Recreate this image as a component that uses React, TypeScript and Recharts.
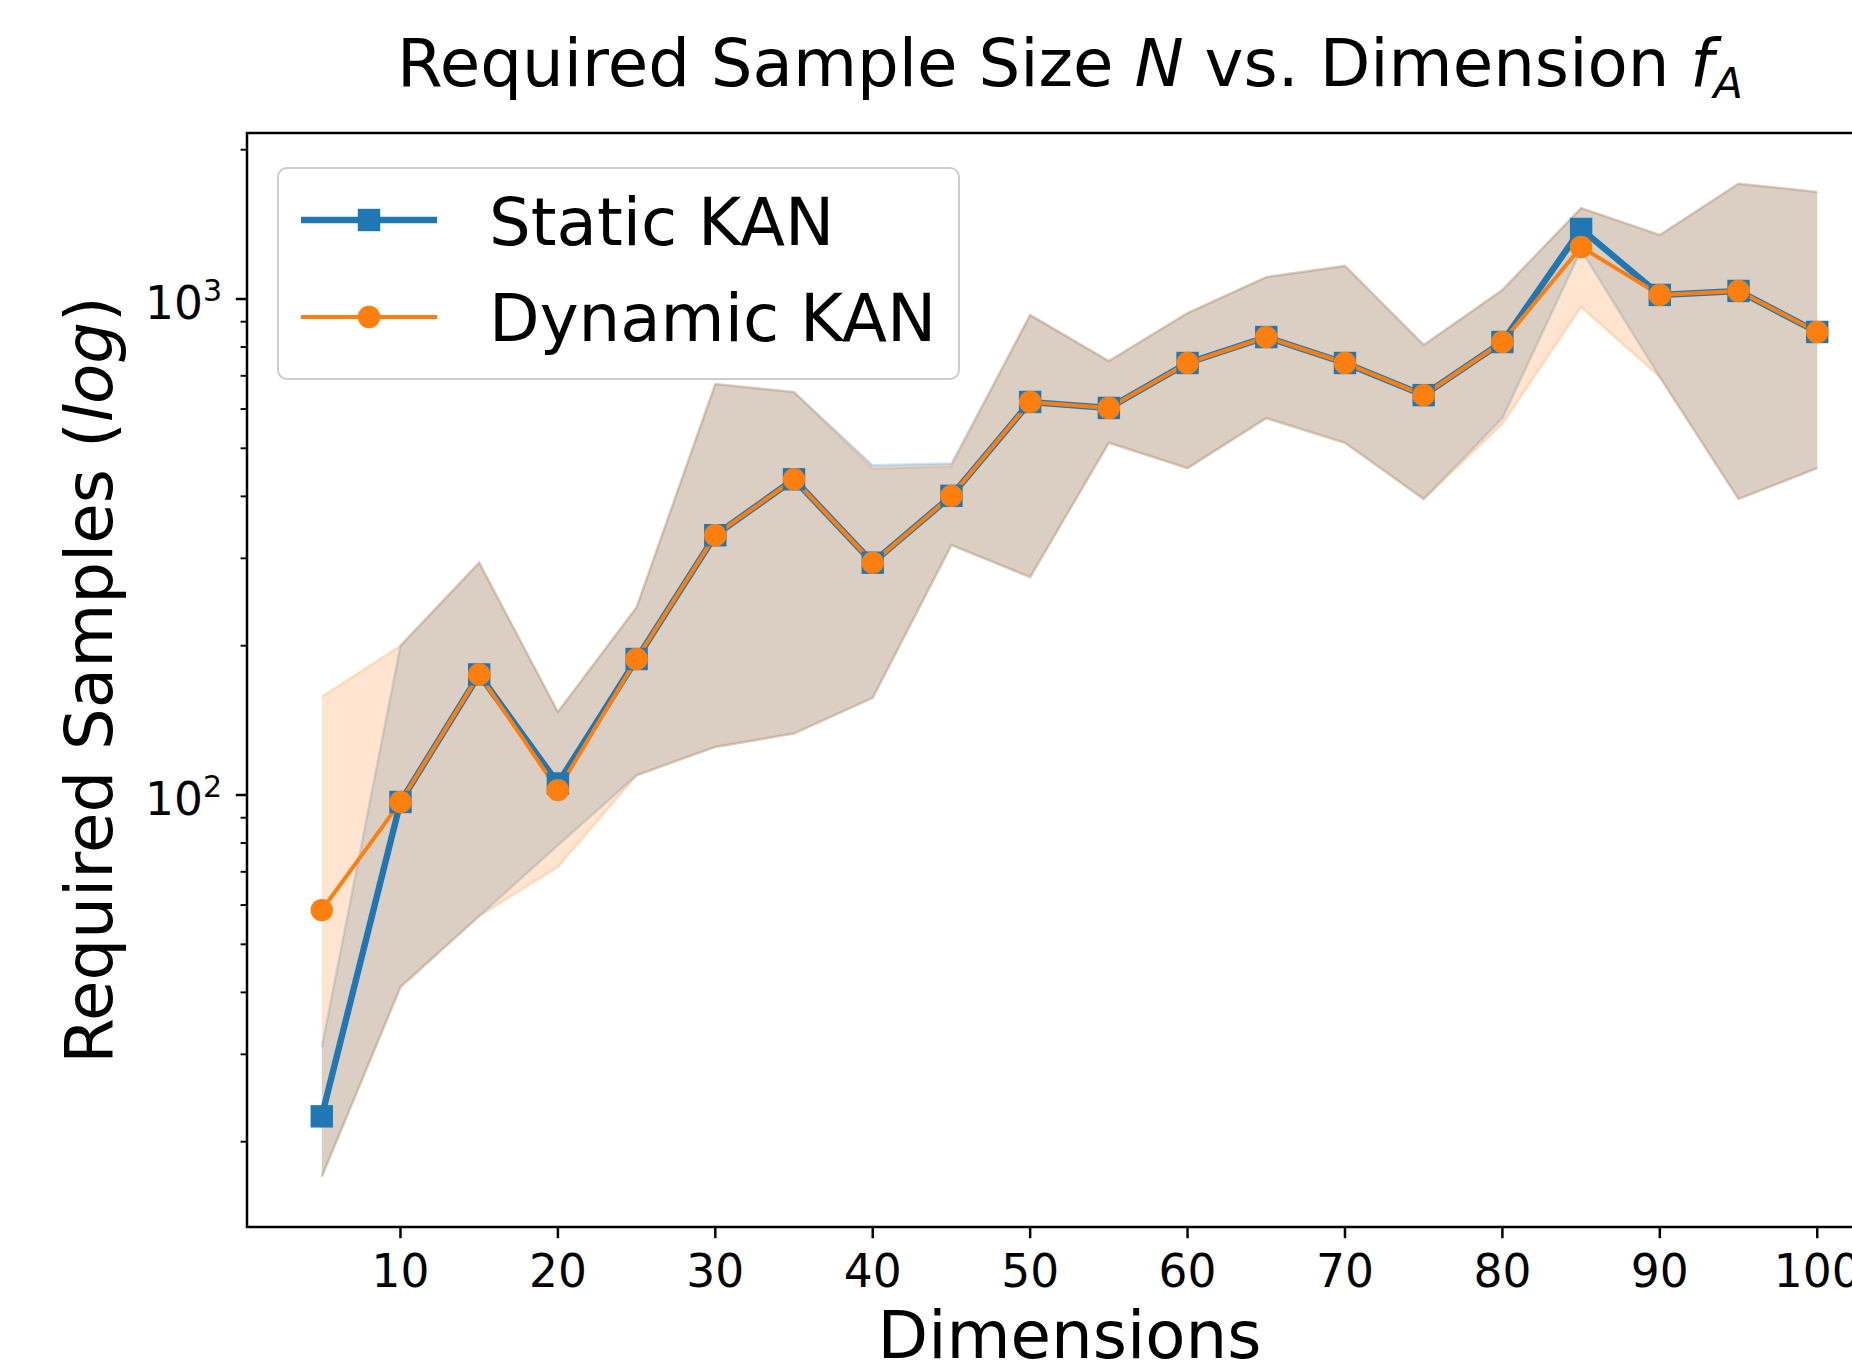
import React from 'react';
import { ComposedChart, Area, Line, XAxis, YAxis, Legend, ReferenceArea, Label } from 'recharts';

// dimensions on the x axis
const dims = [5, 10, 15, 20, 25, 30, 35, 40, 45, 50, 55, 60, 65, 70, 75, 80, 85, 90, 95, 100];

// mean required samples per dimension
const staticMean = [22.5, 96.8, 175, 105.5, 188, 334, 433, 294, 401, 620, 603, 743, 838, 743, 640, 819, 1384, 1019, 1038, 858];
const dynamicMean = [58.6, 96.8, 175, 102.3, 188, 334, 433, 294, 401, 620, 603, 743, 838, 743, 640, 819, 1273, 1019, 1038, 858];

// shaded spread around each mean
const staticLow = [17.0, 41.0, 57.0, 79.2, 109.6, 125, 133, 157, 319, 275, 513, 456, 575, 513, 395, 575, 1255, 696, 395, 456];
const staticHigh = [31.0, 200, 294, 147, 239, 674, 649, 462, 466, 928, 750, 937, 1107, 1166, 808, 1043, 1525, 1346, 1707, 1644];
const dynamicLow = [17.0, 41.0, 57.0, 71.6, 109.6, 125, 133, 157, 319, 275, 513, 456, 575, 513, 395, 560, 963, 696, 395, 456];
const dynamicHigh = [157.8, 200, 294, 147, 239, 674, 649, 455, 460, 928, 750, 937, 1107, 1166, 808, 1043, 1525, 1346, 1707, 1644];

const xTicks = [10, 20, 30, 40, 50, 60, 70, 80, 90, 100];
const yTicks = [20, 30, 40, 50, 60, 70, 80, 90, 100, 200, 300, 400, 500, 600, 700, 800, 900, 1000, 2000];
const yMajor = [100, 1000];

const X_DOMAIN: [number, number] = [0.25, 104.75];
const Y_DOMAIN: [number, number] = [13.46, 2161];

const BLUE = '#1f77b4';
const ORANGE = '#ff7f0e';
const FONT = '"DejaVu Sans", Verdana, sans-serif';
const BIG = 65.8;
const TICK = 45.5;

const data = dims.map((d, i) => ({
  dim: d,
  staticMean: staticMean[i],
  dynamicMean: dynamicMean[i],
  staticBand: [staticLow[i], staticHigh[i]],
  dynamicBand: [dynamicLow[i], dynamicHigh[i]],
}));

const XTick = (props: any) => {
  const { x, y, payload } = props;
  return (
    <text x={x} y={y + 49} textAnchor="middle" fontSize={TICK} fontFamily={FONT} fill="#000">
      {payload.value}
    </text>
  );
};

const YTick = (props: any) => {
  const { x, y, payload } = props;
  const v = payload.value;
  const major = yMajor.includes(v);
  const exp = Math.round(Math.log10(v));
  return (
    <g>
      <line
        x1={x - (major ? 11.2 : 6.4)}
        x2={x}
        y1={y}
        y2={y}
        stroke="#000"
        strokeWidth={major ? 2.5 : 1.9}
      />
      {major && (
        <text x={x - 25} y={y + 20} textAnchor="end" fontSize={TICK} fontFamily={FONT} fill="#000">
          10
          <tspan fontSize={30} dy={-18}>
            {exp}
          </tspan>
        </text>
      )}
    </g>
  );
};

const SquareDot = (p: any) => (
  <rect key={`sq-${p.index}`} x={p.cx - 11.2} y={p.cy - 11.2} width={22.4} height={22.4} fill={BLUE} />
);

const CircleDot = (p: any) => <circle key={`ci-${p.index}`} cx={p.cx} cy={p.cy} r={11.2} fill={ORANGE} />;

const LegendBox = () => (
  <svg width={684} height={214} style={{ display: 'block' }}>
    <rect x={1} y={1} width={681} height={211} rx={9} fill="#fff" fillOpacity={0.8} stroke="#cccccc" strokeWidth={2} />
    <line x1={24} x2={160} y1={53} y2={53} stroke={BLUE} strokeWidth={6.4} />
    <rect x={92 - 11.2} y={53 - 11.2} width={22.4} height={22.4} fill={BLUE} />
    <text x={212} y={78} fontSize={BIG} fontFamily={FONT} fill="#000">
      Static KAN
    </text>
    <line x1={24} x2={160} y1={150} y2={150} stroke={ORANGE} strokeWidth={4} />
    <circle cx={92} cy={150} r={11.2} fill={ORANGE} />
    <text x={212} y={174} fontSize={BIG} fontFamily={FONT} fill="#000">
      Dynamic KAN
    </text>
  </svg>
);

const App: React.FC = () => {
  return (
    <div
      style={{
        position: 'fixed',
        left: 0,
        top: 0,
        width: 1852,
        height: 1368,
        overflow: 'hidden',
        background: '#fff',
      }}
    >
      <svg width={1852} height={140} style={{ position: 'absolute', left: 0, top: 0 }}>
        <text x={1070} y={86} textAnchor="middle" fontSize={BIG} fontFamily={FONT} fill="#000">
          Required Sample Size <tspan fontStyle="italic">N</tspan> vs. Dimension{' '}
          <tspan fontStyle="italic">f</tspan>
          <tspan fontStyle="italic" fontSize={43} dy={12}>
            A
          </tspan>
        </text>
      </svg>
      <div style={{ position: 'absolute', left: 0, top: 0 }}>
        <ComposedChart width={1900} height={1368} data={data} margin={{ top: 133, right: 8, bottom: 0, left: 0 }}>
          <XAxis
            dataKey="dim"
            type="number"
            domain={X_DOMAIN}
            allowDataOverflow
            ticks={xTicks}
            interval={0}
            tick={<XTick />}
            tickSize={11.2}
            tickMargin={0}
            tickLine={{ stroke: '#000', strokeWidth: 2.5 }}
            axisLine={false}
            height={141}
          >
            <Label
              content={(p: any) => (
                <text
                  x={p.viewBox.x + p.viewBox.width / 2}
                  y={p.viewBox.y + 131}
                  textAnchor="middle"
                  fontSize={BIG}
                  fontFamily={FONT}
                  fill="#000"
                >
                  Dimensions
                </text>
              )}
            />
          </XAxis>
          <YAxis
            type="number"
            scale="log"
            domain={Y_DOMAIN}
            allowDataOverflow
            ticks={yTicks}
            interval={0}
            tick={<YTick />}
            tickSize={0}
            tickMargin={0}
            tickLine={false}
            axisLine={false}
            width={247}
          >
            <Label
              content={(p: any) => {
                const cy = p.viewBox.y + p.viewBox.height / 2;
                return (
                  <text
                    x={112}
                    y={cy}
                    transform={`rotate(-90, 112, ${cy})`}
                    textAnchor="middle"
                    fontSize={BIG}
                    fontFamily={FONT}
                    fill="#000"
                  >
                    Required Samples (<tspan fontStyle="italic">log</tspan>)
                  </text>
                );
              }}
            />
          </YAxis>
          <Area
            type="linear"
            dataKey="staticBand"
            fill={BLUE}
            fillOpacity={0.2}
            stroke={BLUE}
            strokeOpacity={0.2}
            strokeWidth={2.5}
            isAnimationActive={false}
            activeDot={false}
            legendType="none"
          />
          <Area
            type="linear"
            dataKey="dynamicBand"
            fill={ORANGE}
            fillOpacity={0.2}
            stroke={ORANGE}
            strokeOpacity={0.2}
            strokeWidth={2.5}
            isAnimationActive={false}
            activeDot={false}
            legendType="none"
          />
          <Line
            type="linear"
            dataKey="staticMean"
            stroke={BLUE}
            strokeWidth={6.4}
            dot={SquareDot}
            activeDot={false}
            isAnimationActive={false}
          />
          <Line
            type="linear"
            dataKey="dynamicMean"
            stroke={ORANGE}
            strokeWidth={4}
            dot={CircleDot}
            activeDot={false}
            isAnimationActive={false}
          />
          <ReferenceArea
            x1={X_DOMAIN[0]}
            x2={X_DOMAIN[1]}
            y1={Y_DOMAIN[0]}
            y2={Y_DOMAIN[1]}
            fill="none"
            stroke="#000"
            strokeWidth={2.5}
            ifOverflow="visible"
          />
          <Legend
            layout="vertical"
            align="center"
            verticalAlign="middle"
            content={<LegendBox />}
            wrapperStyle={{ position: 'absolute', left: 277, top: 167, width: 684, height: 214 }}
          />
        </ComposedChart>
      </div>
    </div>
  );
};

export default App;
